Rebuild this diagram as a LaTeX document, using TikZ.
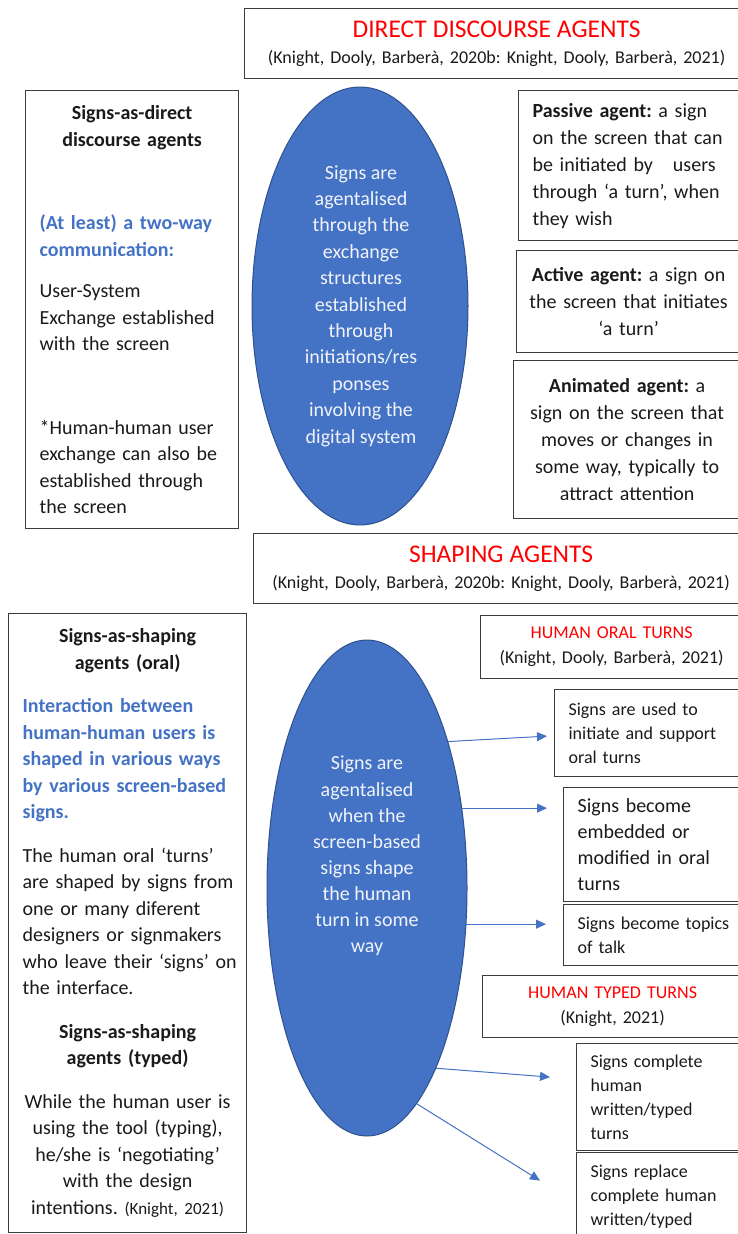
\documentclass[tikz,border=0pt]{standalone}
\usepackage{fontspec}
\setmainfont{Carlito}
\usetikzlibrary{shapes.geometric,arrows.meta}
\definecolor{agentblue}{HTML}{4472C4}
\definecolor{agentrim}{HTML}{2F528F}
\definecolor{headred}{HTML}{FF0000}
\definecolor{boxline}{HTML}{3C3C3C}
\definecolor{bodytext}{HTML}{1A1A1A}
\setlength{\parindent}{0pt}
\frenchspacing

\begin{document}
\begin{tikzpicture}[x=1pt,y=-1pt,
	box/.style={draw=boxline,line width=1.2pt,anchor=north west,inner xsep=14pt,inner ysep=0pt,text=bodytext,align=left,font=\fontsize{20}{26.5}\selectfont},
	headbox/.style={box,align=center,font=\fontsize{18}{26}\selectfont},
	smallbox/.style={box,font=\fontsize{18}{24}\selectfont},
	agentell/.style={ellipse,fill=agentblue,draw=agentrim,line width=1pt,inner sep=0pt},
	elltext/.style={text=white!92!agentblue,align=center,font=\fontsize{20}{26.4}\selectfont},
	arr/.style={draw=agentblue,line width=1pt,-{Triangle[length=10pt,width=9pt]}}]
	\useasboundingbox (0,0) rectangle (737,1234);

	\node[headbox,minimum width=504pt,minimum height=70pt,text width=476pt] (hdrdirect) at (244,8)
		{{\fontsize{25.5}{26}\selectfont\color{headred}DIRECT DISCOURSE AGENTS}\\(Knight, Dooly, Barberà, 2020b: Knight, Dooly, Barberà, 2021)};
	\node[box,minimum width=213pt,minimum height=438pt,text width=185pt] (directleft) at (25,90)
		{{\centering\bfseries Signs-as-direct\\discourse agents\par}
		\vspace{57pt}
		{\color{agentblue}\bfseries (At~least) a~two-way\\communication:\par}
		\vspace{15pt}
		User-System\\Exchange~established\\with the screen\par
		\vspace{57pt}
		*Human-human~user\\exchange~can~also~be\\established~through\\the screen};
	\node[agentell,minimum width=216pt,minimum height=438pt] (ell1) at (360,306) {};
	\node[elltext] (ell1txt) at (361,306)
		{Signs are\\agentalised\\through the\\exchange\\structures\\established\\through\\initiations/res\\ponses\\involving the\\digital system};
	\node[box,minimum width=222pt,minimum height=150pt,text width=230pt,font=\fontsize{20}{27}\selectfont] (passive) at (518,90)
		{\textbf{Passive agent:} a sign\\on the screen that can\\be initiated by \ \ users\\through ‘a turn’, when\\they wish};
	\node[box,minimum width=224pt,minimum height=102pt,inner xsep=6pt,text width=212pt,align=center,font=\fontsize{20}{27}\selectfont] (active) at (516,250)
		{\textbf{Active agent:} a sign on\\the screen that initiates\\‘a turn’};
	\node[box,minimum width=227pt,minimum height=158pt,inner xsep=6pt,text width=215pt,align=center,font=\fontsize{20}{27}\selectfont] (animated) at (513,360)
		{\textbf{Animated agent:} a\\sign on the screen that\\moves or changes in\\some way, typically to\\attract attention};

	\node[headbox,minimum width=495pt,minimum height=70pt,text width=467pt] (hdrshaping) at (253,533)
		{{\fontsize{25.5}{26}\selectfont\color{headred}SHAPING AGENTS}\\(Knight, Dooly, Barberà, 2020b: Knight, Dooly, Barberà, 2021)};
	\node[box,minimum width=238pt,minimum height=619pt,text width=210pt] (shapingleft) at (8,613)
		{{\centering\bfseries Signs-as-shaping\\agents (oral)\par}
		\vspace{17pt}
		{\color{agentblue}\bfseries Interaction~between\\human-human~users~is\\shaped~in~various~ways\\by~various~screen-based\\signs.\par}
		\vspace{17pt}
		The~human~oral~‘turns’\\are~shaped~by~signs~from\\one~or~many~diferent\\designers~or~signmakers\\who~leave~their~‘signs’~on\\the interface.\par
		\vspace{17pt}
		{\centering\bfseries Signs-as-shaping\\agents (typed)\par}
		\vspace{17pt}
		{\centering While~the~human~user~is\\using~the~tool~(typing),\\he/she~is~‘negotiating’\\with the design\\intentions. {\fontsize{17}{26.5}\selectfont(Knight, 2021)}\par}};
	\node[agentell,minimum width=200pt,minimum height=496pt] (ell2) at (367,888) {};
	\node[elltext,font=\fontsize{20}{26.1}\selectfont] (ell2txt) at (367,856)
		{Signs are\\agentalised\\when the\\screen-based\\signs shape\\the human\\turn in some\\way};

	\node[headbox,minimum width=262pt,minimum height=63pt,text width=234pt,font=\fontsize{18}{25}\selectfont] (hdroral) at (480,615)
		{{\color{headred}HUMAN ORAL TURNS}\\(Knight, Dooly, Barberà, 2021)};
	\node[smallbox,minimum width=194pt,minimum height=87pt,text width=200pt] (oralA) at (554,689)
		{Signs are used to\\initiate and support\\oral turns};
	\node[box,minimum width=185pt,minimum height=114pt,text width=190pt,font=\fontsize{20}{26}\selectfont] (oralB) at (563,787)
		{Signs become\\embedded or\\modified in oral\\turns};
	\node[smallbox,minimum width=185pt,minimum height=61pt,text width=190pt] (oralC) at (563,904)
		{Signs become topics\\of talk};
	\node[headbox,minimum width=260pt,minimum height=62pt,text width=232pt,font=\fontsize{18}{25}\selectfont] (hdrtyped) at (482,975)
		{{\color{headred}HUMAN TYPED TURNS}\\(Knight, 2021)};
	\node[smallbox,minimum width=172pt,minimum height=107pt,text width=180pt] (typedD) at (576,1043)
		{Signs complete\\human\\written/typed\\turns};
	\node[smallbox,minimum width=172pt,minimum height=88pt,text width=180pt] (typedE) at (576,1152)
		{Signs replace\\complete human\\written/typed};

	\draw[arr] (ell2.61) -- ([xshift=-7pt,yshift=-3pt]oralA.west);
	\draw[arr,shorten >=16pt] (ell2.40) -- (ell2.40 -| oralB.west);
	\draw[arr,shorten >=17pt] (ell2.-20) -- (ell2.-20 -| oralC.west);
	\draw[arr] (ell2.-69) -- ([xshift=-26pt,yshift=20pt]typedD.west);
	\draw[arr] (ell2.-77) -- ([xshift=-36pt,yshift=16pt]typedE.west);
\end{tikzpicture}
\end{document}
